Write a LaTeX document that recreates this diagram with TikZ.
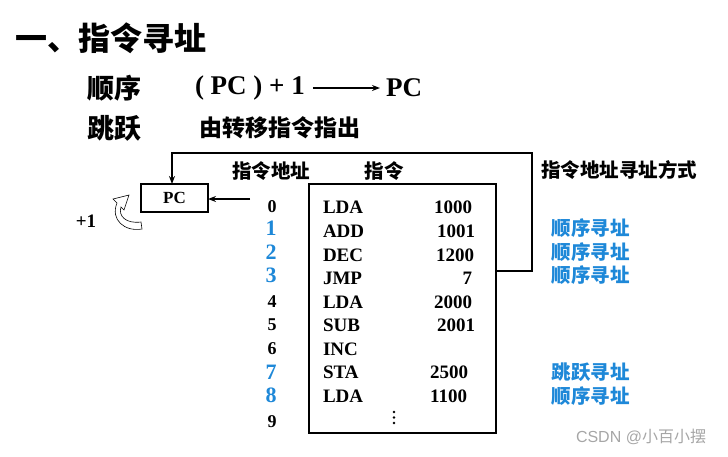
\documentclass[tikz,border=0pt]{standalone}
\usepackage{fontspec}
\setmainfont{Liberation Serif}
\newfontfamily\cjk{Noto Sans CJK SC}
\newfontfamily\wmfont{Liberation Sans}
\usetikzlibrary{arrows.meta}
\definecolor{nblue}{RGB}{30,136,216}
\begin{document}
\begin{tikzpicture}[x=1pt,y=-1pt,
  every node/.style={inner sep=0pt,outer sep=0pt},
  titlefont/.style={font=\cjk\bfseries\fontsize{32}{36}\selectfont},
  subfont/.style={font=\cjk\bfseries\fontsize{27}{30}\selectfont},
  formula/.style={font=\bfseries\fontsize{27}{30}\selectfont},
  desc/.style={font=\cjk\bfseries\fontsize{23}{26}\selectfont},
  hdr/.style={font=\cjk\bfseries\fontsize{19.5}{22}\selectfont},
  numk/.style={font=\bfseries\fontsize{18}{20}\selectfont},
  numb/.style={font=\bfseries\fontsize{22}{24}\selectfont, text=nblue},
  ins/.style={font=\bfseries\fontsize{19}{22}\selectfont},
  mode/.style={font=\cjk\bfseries\fontsize{19.5}{22}\selectfont, text=nblue},
  boxed/.style={draw, line width=1.6pt},
  wire/.style={line width=1.6pt},
  tip/.style={-{Stealth[length=8pt,width=6pt]}}
]
\useasboundingbox (0,0) rectangle (728,456);

% heading
\node[titlefont, anchor=west] (title) at (15,38) {一、指令寻址};
\node[subfont, anchor=west] (seq) at (87,88) {顺序};
\node[formula, anchor=west] (f) at (195,88) {( PC ) + 1};
\node[formula, anchor=west] (pc2) at (386,88) {PC};
\draw[line width=1.3pt, tip, shorten <=8pt, shorten >=6pt] (f.east) -- (pc2.west);
\node[subfont, anchor=west] (jump) at (87,128) {跳跃};
\node[desc, anchor=west] (jd) at (199,128) {由转移指令指出};

% column headers
\node[hdr] (h1) at (271,171) {指令地址};
\node[hdr] (h2) at (384,171) {指令};
\node[hdr] (h3) at (619,170) {指令地址寻址方式};

% PC box
\node[boxed, minimum width=67pt, minimum height=28pt, font=\bfseries\fontsize{17}{20}\selectfont] (pc) at (174.5,198) {PC};
\node[font=\bfseries\fontsize{19}{22}\selectfont] (plus) at (86,221) {+1};
\draw[line width=0.6pt, fill=white]
  (141,222) .. controls (126,224) and (118,216) .. (121,207)
  -- (124,210) -- (129,195) -- (113,199) -- (117,203)
  .. controls (110,220) and (125,232) .. (142,229) -- cycle;

% memory box
\node[boxed, minimum width=187pt, minimum height=249pt] (mem) at (402.5,308.5) {};

% jump loop
\coordinate (lr) at (532,271);
\coordinate (jt) at (532,153);
\coordinate (jl) at (172,153);
\draw[wire, tip] (mem.east |- lr) -- (lr) -- (jt) -- (jl) -- (jl |- pc.north);

% address 0 -> PC
\coordinate (a0) at (250,199);
\draw[wire, tip] (a0) -- (pc.east |- a0);

% addresses
\node[numk] (n0) at (272,207) {0};
\node[numb] (n1) at (271,228) {1};
\node[numb] (n2) at (271,252) {2};
\node[numb] (n3) at (271,275) {3};
\node[numk] (n4) at (272,302) {4};
\node[numk] (n5) at (272,325) {5};
\node[numk] (n6) at (272,349) {6};
\node[numb] (n7) at (271,372) {7};
\node[numb] (n8) at (271,395) {8};
\node[numk] (n9) at (272,422) {9};

% instructions
\node[ins, anchor=west] (i0) at (323,207) {LDA};
\node[ins, anchor=west] (i1) at (323,231) {ADD};
\node[ins, anchor=west] (i2) at (323,255) {DEC};
\node[ins, anchor=west] (i3) at (323,278) {JMP};
\node[ins, anchor=west] (i4) at (323,302) {LDA};
\node[ins, anchor=west] (i5) at (323,325) {SUB};
\node[ins, anchor=west] (i6) at (323,349) {INC};
\node[ins, anchor=west] (i7) at (323,372) {STA};
\node[ins, anchor=west] (i8) at (323,396) {LDA};

\node[ins, anchor=east] (o0) at (472,207) {1000};
\node[ins, anchor=east] (o1) at (475,231) {1001};
\node[ins, anchor=east] (o2) at (474,255) {1200};
\node[ins, anchor=east] (o3) at (472,278) {7};
\node[ins, anchor=east] (o4) at (472,302) {2000};
\node[ins, anchor=east] (o5) at (475,325) {2001};
\node[ins, anchor=east] (o7) at (468,372) {2500};
\node[ins, anchor=east] (o8) at (467,396) {1100};
% vertical ellipsis
\foreach \yy in {412,417.5,423} \fill (394,\yy) circle (1.3pt);

% addressing modes
\node[mode] (m1) at (590.5,228) {顺序寻址};
\node[mode] (m2) at (590.5,252) {顺序寻址};
\node[mode] (m3) at (590.5,275) {顺序寻址};
\node[mode] (m7) at (590.5,372) {跳跃寻址};
\node[mode] (m8) at (590.5,396) {顺序寻址};

% watermark
\node[anchor=west, text=black!35, font=\fontsize{16}{18}\selectfont] (wm) at (576,437) {{\wmfont CSDN @}{\cjk 小百小摆}};
\end{tikzpicture}
\end{document}
